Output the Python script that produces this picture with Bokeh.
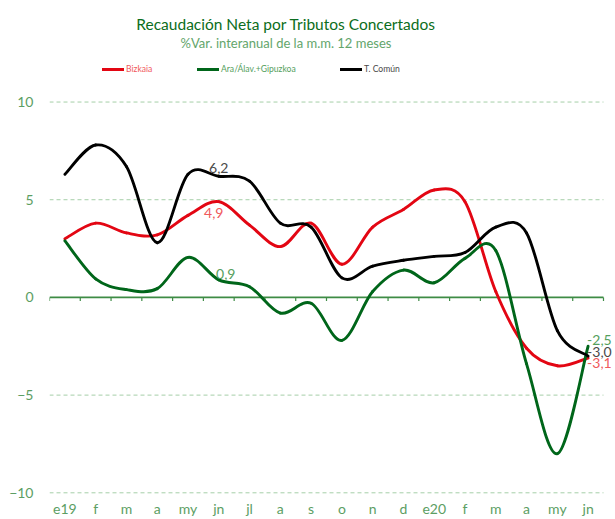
from bokeh.plotting import figure
from bokeh.models import Range1d, FixedTicker, Label, Legend, LegendItem, ColumnDataSource
from bokeh.embed import file_html
from bokeh.resources import INLINE
from bokeh.core.properties import value

# ---------------- data ----------------
months = ["e19", "f", "m", "a", "my", "jn", "jl", "a", "s", "o", "n", "d",
          "e20", "f", "m", "a", "my", "jn"]
bizkaia = [3.0, 3.8, 3.3, 3.2, 4.2, 4.9, 3.7, 2.6, 3.8, 1.7, 3.6, 4.5,
           5.5, 4.9, 0.3, -2.6, -3.5, -3.1]
ara_gip = [2.9, 0.95, 0.4, 0.45, 2.05, 0.9, 0.55, -0.8, -0.3, -2.2, 0.3, 1.4,
           0.75, 2.0, 2.4, -3.4, -8.0, -2.5]
t_comun = [6.3, 7.8, 6.7, 2.8, 6.3, 6.2, 5.95, 3.8, 3.6, 1.0, 1.6, 1.9,
           2.1, 2.3, 3.6, 3.3, -1.7, -3.0]
y_ticks = [-10, -5, 0, 5, 10]
series_names = ["Bizkaia", "Ara/Álav.+Gipuzkoa", "T. Común"]

# ---------------- style ----------------
FONT = "Lato"
RED, GREEN, BLACK = "#e30613", "#00661a", "#000000"
RED_TXT, GREEN_TXT, GREY_TXT = "#f0595c", "#55a05d", "#4a4a4a"
AXIS_TXT = "#5c9e63"
GRID = "#a6cfa8"
ZERO = "#3e8c45"

W, H = 615, 519
LEFT, BOTTOM = 49, 24
n = len(months)
xs = list(range(n))
y_lo, y_hi = -10.087, 15.197
px_per_unit = (H - BOTTOM) / (y_hi - y_lo)

p = figure(width=W, height=H, output_backend="svg", toolbar_location=None,
           x_range=Range1d(-0.5, n - 0.5 + 0.39), y_range=Range1d(y_lo, y_hi),
           min_border_left=LEFT, min_border_right=0, min_border_top=0,
           min_border_bottom=BOTTOM)
p.outline_line_color = None
p.xgrid.visible = False
p.ygrid.visible = False
p.background_fill_color = "white"

# axes
p.xaxis.ticker = FixedTicker(ticks=xs)
p.xaxis.major_label_overrides = {i: m for i, m in enumerate(months)}
p.xaxis.axis_line_color = None
p.xaxis.major_tick_line_color = None
p.xaxis.minor_tick_line_color = None
p.xaxis.major_tick_out = 0
p.xaxis.major_tick_in = 0
p.xaxis.major_label_standoff = 5
p.xaxis.major_label_text_font = FONT
p.xaxis.major_label_text_font_size = "14px"
p.xaxis.major_label_text_color = AXIS_TXT

p.yaxis.ticker = FixedTicker(ticks=y_ticks)
p.yaxis.axis_line_color = None
p.yaxis.major_tick_line_color = None
p.yaxis.minor_tick_line_color = None
p.yaxis.major_tick_out = 0
p.yaxis.major_tick_in = 0
p.yaxis.major_label_standoff = 16
p.yaxis.major_label_text_font = FONT
p.yaxis.major_label_text_font_size = "14px"
p.yaxis.major_label_text_color = AXIS_TXT

# dashed grid lines
gv = [v for v in y_ticks if v != 0]
p.segment(x0=[-0.5] * len(gv), y0=gv, x1=[n - 0.5] * len(gv), y1=gv,
          line_color=GRID, line_dash="4 3", line_width=1)
# zero axis line and tick marks
p.segment(x0=[-0.5], y0=[0], x1=[n - 0.5], y1=[0], line_color=ZERO, line_width=1.6)
bnd = [i - 0.5 for i in range(n + 1)]
p.segment(x0=bnd, y0=[0] * len(bnd), x1=bnd, y1=[-3.5 / px_per_unit] * len(bnd),
          line_color=ZERO, line_width=1.2)


def smooth(xv, yv):
    d = dict(x0=[], y0=[], x1=[], y1=[], cx0=[], cy0=[], cx1=[], cy1=[])
    m = len(xv)
    for i in range(m - 1):
        a = i - 1 if i > 0 else i
        b = i + 2 if i + 2 < m else i + 1
        d["x0"].append(xv[i]); d["y0"].append(yv[i])
        d["x1"].append(xv[i + 1]); d["y1"].append(yv[i + 1])
        d["cx0"].append(xv[i] + (xv[i + 1] - xv[a]) / 6)
        d["cy0"].append(yv[i] + (yv[i + 1] - yv[a]) / 6)
        d["cx1"].append(xv[i + 1] - (xv[b] - xv[i]) / 6)
        d["cy1"].append(yv[i + 1] - (yv[b] - yv[i]) / 6)
    return ColumnDataSource(d)


renderers = []
for ys, col in [(bizkaia, RED), (ara_gip, GREEN), (t_comun, BLACK)]:
    r = p.bezier(x0="x0", y0="y0", x1="x1", y1="y1", cx0="cx0", cy0="cy0",
                 cx1="cx1", cy1="cy1", source=smooth(xs, ys),
                 line_color=col, line_width=2.9, line_cap="round")
    renderers.append(r)


def fmt(v):
    return f"{v:.1f}".replace(".", ",")


# data labels
jn1 = 5
last = n - 1
p.text(x=[jn1], y=[t_comun[jn1]], text=[fmt(t_comun[jn1])],
       text_font=value(FONT), text_font_size="14px", text_color=GREY_TXT,
       text_align="center", text_baseline="alphabetic", x_offset=0, y_offset=-8)
p.text(x=[jn1], y=[bizkaia[jn1]], text=[fmt(bizkaia[jn1])],
       text_font=value(FONT), text_font_size="14px", text_color=RED_TXT,
       text_align="center", text_baseline="top", x_offset=-5, y_offset=6)
p.text(x=[jn1], y=[ara_gip[jn1]], text=[fmt(ara_gip[jn1])],
       text_font=value(FONT), text_font_size="14px", text_color=GREEN_TXT,
       text_align="center", text_baseline="alphabetic", x_offset=7, y_offset=-6)
for ys, col, dy in [(ara_gip, GREEN_TXT, -6), (t_comun, GREY_TXT, -4), (bizkaia, RED_TXT, 5)]:
    p.text(x=[last], y=[ys[last]], text=[fmt(ys[last])],
           text_font=value(FONT), text_font_size="14px", text_color=col,
           text_align="left", text_baseline="middle", x_offset=-1, y_offset=dy)

# legends (one per series so each label keeps its colour)
frame_bottom = H - BOTTOM
for name, r, tcol, gx in [(series_names[0], renderers[0], RED_TXT, 102),
                          (series_names[1], renderers[1], GREEN_TXT, 197),
                          (series_names[2], renderers[2], GREY_TXT, 340)]:
    lg = Legend(items=[LegendItem(label=name, renderers=[r])],
                location=(gx - LEFT, frame_bottom - 75.5), orientation="horizontal",
                glyph_width=22, glyph_height=12, label_standoff=2,
                label_height=12, padding=0, margin=0, border_line_color=None,
                background_fill_alpha=0, label_text_font=FONT,
                label_text_font_size="8.6px", label_text_color=tcol)
    p.add_layout(lg)

# title & subtitle
p.add_layout(Label(x=285.5 - LEFT, y=frame_bottom - 24.5, x_units="screen", y_units="screen",
                   text="Recaudación Neta por Tributos Concertados",
                   text_align="center", text_baseline="alphabetic",
                   text_font=FONT, text_font_size="15.5px", text_color="#0b6d20"))
p.add_layout(Label(x=285.5 - LEFT, y=frame_bottom - 43.5, x_units="screen", y_units="screen",
                   text="%Var. interanual de la m.m. 12 meses",
                   text_align="center", text_baseline="alphabetic",
                   text_font=FONT, text_font_size="13px", text_color="#63a56b"))

open("out.html", "w").write(file_html(p, INLINE))
